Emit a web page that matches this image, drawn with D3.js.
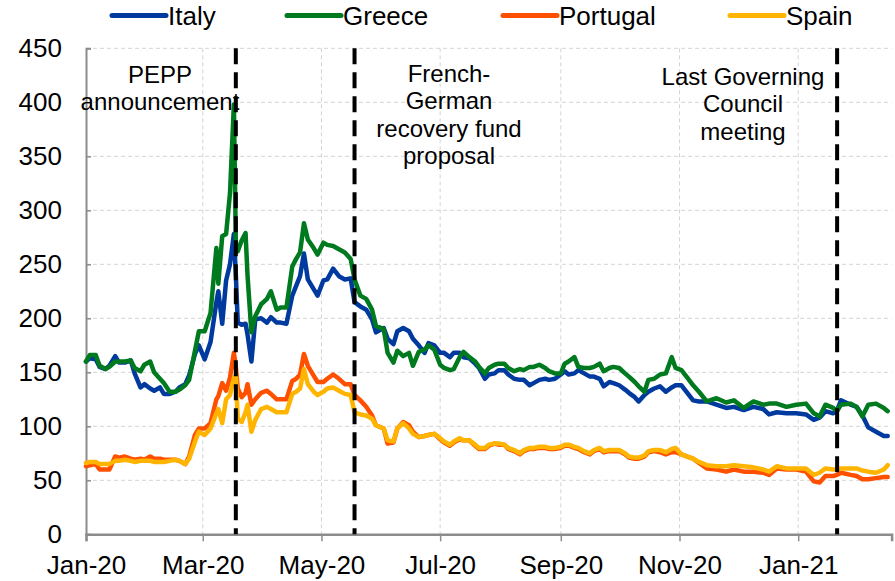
<!DOCTYPE html>
<html>
<head>
<meta charset="utf-8">
<script src="https://cdn.jsdelivr.net/npm/d3@7"></script>
<style>
  html, body { margin: 0; padding: 0; background: #fff; }
  svg { display: block; font-family: "Liberation Sans", Arial, sans-serif; }
</style>
</head>
<body>
<svg id="chart" width="895" height="581"></svg>
<script>
// ---------------- DATA ----------------
const dates = [
"2020-01-01","2020-01-03","2020-01-06","2020-01-08","2020-01-11","2020-01-13","2020-01-16","2020-01-18","2020-01-21","2020-01-24",
"2020-01-26","2020-01-29","2020-01-31","2020-02-03","2020-02-05","2020-02-08","2020-02-10","2020-02-13","2020-02-16","2020-02-18",
"2020-02-21","2020-02-23","2020-02-26","2020-02-28","2020-03-02","2020-03-05","2020-03-08","2020-03-09","2020-03-11","2020-03-13",
"2020-03-15","2020-03-17","2020-03-18","2020-03-19","2020-03-21","2020-03-23","2020-03-24","2020-03-26","2020-03-28","2020-03-31",
"2020-04-03","2020-04-05","2020-04-08","2020-04-10","2020-04-13","2020-04-16","2020-04-18","2020-04-20","2020-04-22","2020-04-24",
"2020-04-27","2020-04-29","2020-05-02","2020-05-04","2020-05-07","2020-05-10","2020-05-13","2020-05-16","2020-05-18","2020-05-21",
"2020-05-24","2020-05-27","2020-05-29","2020-06-02","2020-06-04","2020-06-07","2020-06-09","2020-06-12","2020-06-15","2020-06-17",
"2020-06-20","2020-06-23","2020-06-25","2020-06-28","2020-07-01","2020-07-03","2020-07-06","2020-07-08","2020-07-11","2020-07-13",
"2020-07-16","2020-07-19","2020-07-21","2020-07-24","2020-07-26","2020-07-29","2020-07-31","2020-08-03","2020-08-05","2020-08-08",
"2020-08-11","2020-08-13","2020-08-16","2020-08-18","2020-08-21","2020-08-24","2020-08-26","2020-08-29","2020-09-01","2020-09-03",
"2020-09-05","2020-09-08","2020-09-10","2020-09-13","2020-09-16","2020-09-18","2020-09-21","2020-09-23","2020-09-26","2020-09-28",
"2020-10-01","2020-10-04","2020-10-06","2020-10-09","2020-10-11","2020-10-14","2020-10-16","2020-10-19","2020-10-22","2020-10-25",
"2020-10-28","2020-10-30","2020-11-02","2020-11-05","2020-11-08","2020-11-11","2020-11-15","2020-11-20","2020-11-25","2020-11-29",
"2020-12-04","2020-12-09","2020-12-14","2020-12-17","2020-12-21","2020-12-26","2020-12-31","2021-01-05","2021-01-09","2021-01-12",
"2021-01-15","2021-01-19","2021-01-21","2021-01-23","2021-01-28","2021-01-31","2021-02-03","2021-02-06","2021-02-10","2021-02-14",
"2021-02-16"
];
const italy = [
160,163,162,155,153,156,165,159,159,161,
149,136,139,135,133,136,130,130,132,136,
139,147,167,175,162,178,215,225,195,235,
250,278,240,196,194,195,185,160,199,200,
196,201,196,196,195,221,230,239,260,236,
227,221,235,236,246,239,236,237,215,211,
208,199,187,191,181,176,188,191,188,181,
175,168,177,175,168,168,164,168,168,164,
163,158,154,144,148,149,152,152,148,144,
143,143,138,140,143,144,143,144,148,151,
148,149,152,149,146,146,144,137,141,140,
138,134,131,127,123,129,132,135,137,132,
136,138,138,131,124,123,123,120,117,118,
115,118,116,111,113,112,112,111,106,108,
114,112,115,124,120,118,110,99,95,91,
91
];
const greece = [
160,166,166,156,153,155,160,160,160,161,
154,151,157,160,150,144,140,132,132,134,
138,143,170,188,188,205,265,232,276,278,
316,398,270,262,272,279,240,187,202,213,
218,225,208,210,210,248,255,261,288,273,
265,259,270,268,267,264,261,255,236,221,
218,208,193,190,168,159,170,165,168,156,
169,171,175,171,157,154,152,153,164,169,
164,160,155,149,154,157,158,158,154,151,
153,152,155,155,157,154,151,149,149,158,
160,164,155,154,154,155,158,151,154,155,
154,149,146,141,137,132,143,144,148,149,
164,154,152,145,138,132,123,126,122,124,
117,123,120,121,121,118,120,121,112,109,
120,117,114,120,121,118,109,120,121,117,
114
];
const portugal = [
63,64,65,60,60,60,72,71,72,70,
69,70,69,72,70,70,69,69,69,68,
65,72,92,98,98,103,125,128,140,133,
145,168,155,135,127,131,139,120,125,131,
133,130,125,125,125,142,144,148,167,156,
147,141,141,144,148,144,139,139,129,124,
118,110,101,98,84,85,98,104,101,95,
90,91,92,93,88,85,82,85,88,87,
87,82,79,79,82,84,83,83,79,77,
74,77,79,79,80,80,79,79,80,82,
82,80,79,76,74,77,79,76,77,77,
77,74,71,70,70,72,76,77,76,74,
76,76,74,72,70,66,61,60,58,60,
58,58,57,55,61,60,60,58,49,48,
54,54,55,57,55,54,51,51,52,53,
53
];
const spain = [
66,67,67,65,65,65,68,68,69,68,
67,68,68,68,67,67,67,68,69,68,
65,70,86,95,92,98,112,116,103,125,
129,145,147,107,104,113,120,95,106,116,
118,116,113,113,113,130,132,135,153,139,
132,129,132,135,136,133,130,129,113,111,
110,107,101,98,87,86,98,103,98,93,
90,91,92,93,89,86,83,86,89,87,
87,83,80,80,83,84,84,83,80,78,
75,78,80,80,81,81,80,80,81,83,
83,81,80,77,75,78,80,77,78,78,
78,75,72,71,71,73,77,78,78,76,
79,80,74,72,70,67,64,63,63,64,
63,62,60,58,63,61,61,61,55,57,
61,60,60,61,61,61,59,58,57,60,
64
];
const seriesNames = ["Italy", "Greece", "Portugal", "Spain"];
const seriesColors = ["#003A9E", "#007A1F", "#FF5000", "#FFB400"];
const yTicks = [0, 50, 100, 150, 200, 250, 300, 350, 400, 450];
const eventDates = ["2020-03-18", "2020-05-18", "2021-01-21"];
const eventLabels = [
  ["PEPP", "announcement"],
  ["French-", "German", "recovery fund", "proposal"],
  ["Last Governing", "Council", "meeting"]
];
const eventLabelPos = [[160, 82.5], [449, 82], [743, 85]];

// ---------------- CHART ----------------
(function () {
const svg = d3.select("#chart");
const parse = d3.timeParse("%Y-%m-%d");
const dts = dates.map(parse);
const pL = 86, pR = 891.6, pT = 48.3, pB = 534.3;

const x = d3.scaleTime()
  .domain([parse("2020-01-01"), parse("2021-02-18")])
  .range([pL, pR]);
const y = d3.scaleLinear().domain([0, 450]).range([pB, pT]);

const xTickDates = d3.timeMonth.every(2).range(parse("2020-01-01"), parse("2021-02-02"));
const fmt = d3.timeFormat("%b-%y");

// gridlines
const grid = svg.append("g");
grid.selectAll("line.hg").data(yTicks.filter(v => v > 0)).join("line")
  .attr("x1", pL).attr("x2", pR)
  .attr("y1", d => y(d)).attr("y2", d => y(d))
  .attr("stroke", "#d4d4d4").attr("stroke-width", 1).attr("stroke-dasharray", "4,3");
grid.selectAll("line.vg").data(xTickDates.slice(1)).join("line")
  .attr("x1", d => x(d)).attr("x2", d => x(d))
  .attr("y1", pT).attr("y2", pB)
  .attr("stroke", "#d4d4d4").attr("stroke-width", 1).attr("stroke-dasharray", "4,3");

// axes
const yAxis = d3.axisLeft(y).tickValues(yTicks).tickSize(-5).tickPadding(24);
const gy = svg.append("g").attr("transform", `translate(${pL},0)`).call(yAxis);
gy.select(".domain").attr("stroke", "#8c8c8c").attr("stroke-width", 2);
gy.selectAll(".tick line").attr("stroke", "#8c8c8c").attr("stroke-width", 1.5);
gy.selectAll(".tick text").attr("font-size", 26).attr("fill", "#000")
  .attr("font-family", "Liberation Sans, Arial, sans-serif");

const xAxis = d3.axisBottom(x).tickValues(xTickDates).tickFormat(fmt).tickSize(7).tickPadding(14);
const gx = svg.append("g").attr("transform", `translate(0,${pB})`).call(xAxis);
gx.select(".domain").attr("stroke", "#8c8c8c").attr("stroke-width", 2.5);
gx.selectAll(".tick line").attr("stroke", "#8c8c8c").attr("stroke-width", 1.5);
gx.selectAll(".tick text").attr("font-size", 26).attr("fill", "#000")
  .attr("font-family", "Liberation Sans, Arial, sans-serif");

// lines
const seriesVals = [italy, greece, portugal, spain];
const line = d3.line().x((d, i) => x(dts[i])).y(d => y(d));
svg.append("g").selectAll("path").data(seriesVals).join("path")
  .attr("d", d => line(d))
  .attr("fill", "none")
  .attr("stroke", (d, i) => seriesColors[i])
  .attr("stroke-width", 4.5)
  .attr("stroke-linejoin", "round")
  .attr("stroke-linecap", "round");

// event lines
svg.append("g").selectAll("line").data(eventDates.map(parse)).join("line")
  .attr("x1", d => x(d)).attr("x2", d => x(d))
  .attr("y1", pT).attr("y2", pB)
  .attr("stroke", "#000").attr("stroke-width", 4).attr("stroke-dasharray", "16,8");

// event labels
const lbl = svg.append("g").attr("font-size", 24).attr("fill", "#000").attr("text-anchor", "middle");
eventLabels.forEach((lines, k) => {
  const t = lbl.append("text").attr("x", eventLabelPos[k][0]).attr("y", eventLabelPos[k][1]);
  lines.forEach((s, j) => {
    t.append("tspan").attr("x", eventLabelPos[k][0]).attr("dy", j === 0 ? 0 : 27.3).text(s);
  });
});

// legend
const legX = [112, 287, 503, 730];
const leg = svg.append("g");
seriesNames.forEach((n, i) => {
  leg.append("line").attr("x1", legX[i]).attr("x2", legX[i] + 54)
    .attr("y1", 15.5).attr("y2", 15.5)
    .attr("stroke", seriesColors[i]).attr("stroke-width", 5).attr("stroke-linecap", "round");
  leg.append("text").attr("x", legX[i] + 56).attr("y", 25)
    .attr("font-size", 26).attr("fill", "#000").text(n);
});
})();
</script>
</body>
</html>
